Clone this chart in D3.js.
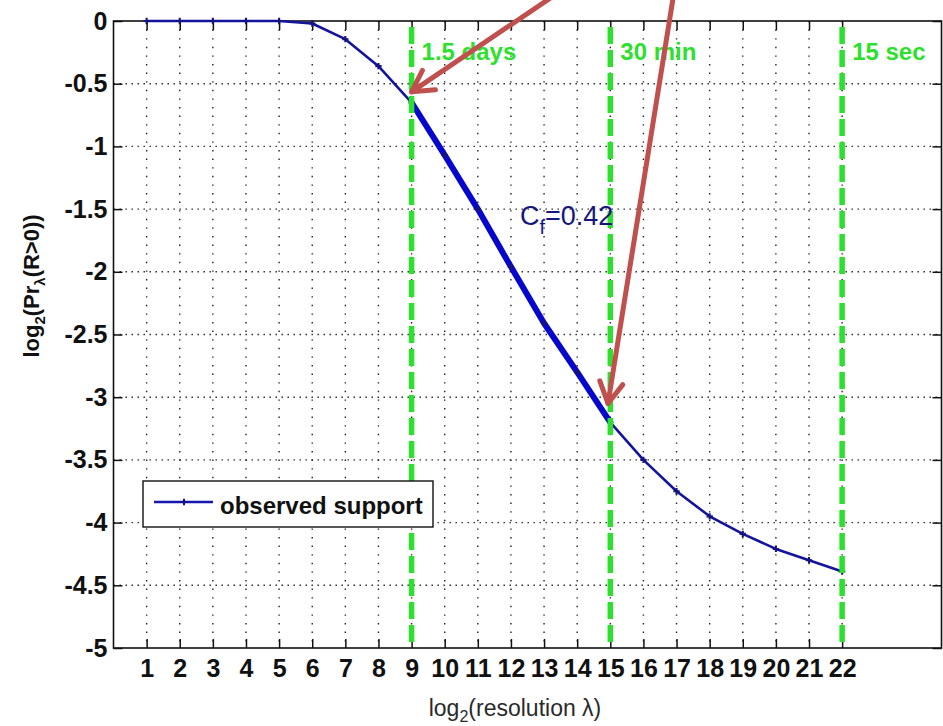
<!DOCTYPE html>
<html>
<head>
<meta charset="utf-8">
<script src="https://cdn.jsdelivr.net/npm/d3@7"></script>
<style>
  body { margin: 0; background: #fff; }
  svg { display: block; }
  text { font-family: "Liberation Sans", Arial, Helvetica, sans-serif; }
</style>
</head>
<body>
<svg id="chart" width="943" height="726"></svg>
<script>
// log2 of the resolution (x) and log2 of the support probability (y)
const resolution = [1, 2, 3, 4, 5, 6, 7, 8, 9, 10, 11, 12, 13, 14, 15, 16, 17, 18, 19, 20, 21, 22];
const logSupport = [0, 0, 0, 0, 0, -0.02, -0.145, -0.36, -0.65, -1.07, -1.5, -1.96, -2.41, -2.8, -3.2,
                    -3.5, -3.75, -3.95, -4.09, -4.21, -4.3, -4.39];

// range over which the power-law fit holds
const fitRange = [9, 15];
const fitLabel = { main: "C", sub: "f", rest: "=0.42" };

// reference time scales
const scaleMarks = [9, 15, 22];
const scaleLabels = ["1.5 days", "30 min", "15 sec"];

// axis ticks
const xTicks = [1, 2, 3, 4, 5, 6, 7, 8, 9, 10, 11, 12, 13, 14, 15, 16, 17, 18, 19, 20, 21, 22];
const yTicks = [0, -0.5, -1, -1.5, -2, -2.5, -3, -3.5, -4, -4.5, -5];
const xDomain = [0, 25];
const yDomain = [-5, 0];

// callout arrows: tail and head in data units
const arrowTails = [[13.23, 0.19], [16.9, 0.19]];
const arrowHeads = [[9.0, -0.565], [14.93, -3.05]];

const legendLabel = "observed support";

const svg = d3.select("#chart");
const W = 943, H = 726;
const margin = { left: 113.5, right: 1.5, top: 21, bottom: 78 };

const x = d3.scaleLinear().domain(xDomain).range([margin.left, W - margin.right]);
const y = d3.scaleLinear().domain(yDomain).range([H - margin.bottom, margin.top]);

const x0 = x.range()[0], x1 = x.range()[1];
const y0 = y.range()[0], y1 = y.range()[1];

svg.append("rect").attr("width", W).attr("height", H).attr("fill", "#fff");

// dotted grid
const grid = svg.append("g");
grid.selectAll("line.gx").data(xTicks).join("line")
  .attr("x1", d => x(d)).attr("x2", d => x(d))
  .attr("y1", y1).attr("y2", y0)
  .attr("stroke", "#222").attr("stroke-width", 1.4)
  .attr("stroke-dasharray", "1.4,7.2");
grid.selectAll("line.gy").data(yTicks.slice(1, -1)).join("line")
  .attr("x1", x0).attr("x2", x1)
  .attr("y1", d => y(d)).attr("y2", d => y(d))
  .attr("stroke", "#222").attr("stroke-width", 1.4)
  .attr("stroke-dasharray", "1.4,4.6");

// axes: ticks pointing inward on all four sides
const tickLen = 9;
const fontTick = 25;
const axisBottom = d3.axisBottom(x).tickValues(xTicks).tickSize(-tickLen).tickPadding(11).tickFormat(d3.format("d"));
const axisTop = d3.axisTop(x).tickValues(xTicks).tickSize(-tickLen).tickFormat("");
const axisLeft = d3.axisLeft(y).tickValues(yTicks).tickSize(-tickLen).tickPadding(6).tickFormat(d => String(d));
const axisRight = d3.axisRight(y).tickValues(yTicks).tickSize(-tickLen).tickFormat("");

function styleAxis(g) {
  g.select(".domain").remove();
  g.selectAll(".tick line").attr("stroke", "#111").attr("stroke-width", 1.5);
  g.selectAll(".tick text").attr("fill", "#111")
    .style("font-size", fontTick + "px").style("font-weight", "bold")
    .style("font-family", "'Liberation Sans', Arial, sans-serif");
}
svg.append("g").attr("transform", `translate(0,${y0})`).call(axisBottom).call(styleAxis)
  .selectAll(".tick text").attr("dy", "0.72em");
svg.append("g").attr("transform", `translate(0,${y1})`).call(axisTop).call(styleAxis);
svg.append("g").attr("transform", `translate(${x0},0)`).call(axisLeft).call(styleAxis);
svg.append("g").attr("transform", `translate(${x1},0)`).call(axisRight).call(styleAxis);

// box
svg.append("rect")
  .attr("x", x0).attr("y", y1).attr("width", x1 - x0).attr("height", y0 - y1)
  .attr("fill", "none").attr("stroke", "#111").attr("stroke-width", 1.6);

const pts = resolution.map((r, i) => [r, logSupport[i]]);
const line = d3.line().x(d => x(d[0])).y(d => y(d[1]));

// observed curve
svg.append("path").datum(pts)
  .attr("d", line).attr("fill", "none")
  .attr("stroke", "#13139e").attr("stroke-width", 2.6).attr("stroke-linejoin", "round");

// fitted section drawn heavier
const fitPts = pts.filter(d => d[0] >= fitRange[0] && d[0] <= fitRange[1]);
svg.append("path").datum(fitPts)
  .attr("d", line).attr("fill", "none")
  .attr("stroke", "#0606cc").attr("stroke-width", 6).attr("stroke-linejoin", "round");

// point markers
const marker = d3.symbol().type(d3.symbolCross).size(22);
svg.append("g").selectAll("path").data(pts).join("path")
  .attr("transform", d => `translate(${x(d[0])},${y(d[1])})`)
  .attr("d", marker).attr("fill", "#14147a");

// green reference time scales
const green = "#2ee02e";
svg.append("g").selectAll("line").data(scaleMarks).join("line")
  .attr("x1", d => x(d)).attr("x2", d => x(d))
  .attr("y1", y(0) + 6).attr("y2", y(-5) - 4)
  .attr("stroke", green).attr("stroke-width", 5.5)
  .attr("stroke-dasharray", "17,6");
svg.append("g").selectAll("text").data(scaleMarks).join("text")
  .attr("x", d => x(d) + 10).attr("y", y(-0.31))
  .attr("fill", green).style("font-size", "24px").style("font-weight", "bold")
  .text((d, i) => scaleLabels[i]);

// slope label
const fl = svg.append("text")
  .attr("x", x(12.27)).attr("y", y(-1.627))
  .attr("fill", "#16167e").style("font-size", "27px");
fl.append("tspan").text(fitLabel.main);
fl.append("tspan").attr("dy", 9).style("font-size", "20px").text(fitLabel.sub);
fl.append("tspan").attr("dy", -9).text(fitLabel.rest);

// legend
const lg = svg.append("g");
lg.append("rect").attr("x", 143).attr("y", 481).attr("width", 290).attr("height", 46)
  .attr("fill", "#fff").attr("stroke", "#111").attr("stroke-width", 1.4);
lg.append("line").attr("x1", 154).attr("x2", 213).attr("y1", 502).attr("y2", 502)
  .attr("stroke", "#1616b0").attr("stroke-width", 2.6);
lg.append("path").attr("transform", "translate(184,502)").attr("d", marker).attr("fill", "#14147a");
lg.append("text").attr("x", 220).attr("y", 514)
  .attr("fill", "#111").style("font-size", "24px").style("font-weight", "bold")
  .text(legendLabel);

// axis titles
const xl = svg.append("text")
  .attr("x", 515).attr("y", 716).attr("text-anchor", "middle")
  .attr("fill", "#2a2a2a").style("font-size", "23px");
xl.append("tspan").text("log");
xl.append("tspan").attr("dy", 6).style("font-size", "16px").text("2");
xl.append("tspan").attr("dy", -6).text("(resolution λ)");

const yl = svg.append("text")
  .attr("transform", "translate(39,286) rotate(-90)").attr("text-anchor", "middle")
  .attr("fill", "#111").style("font-size", "22px").style("font-weight", "bold");
yl.append("tspan").text("log");
yl.append("tspan").attr("dy", 6).style("font-size", "15px").text("2");
yl.append("tspan").attr("dy", -6).text("(Pr");
yl.append("tspan").attr("dy", 6).style("font-size", "15px").text("λ");
yl.append("tspan").attr("dy", -6).text("(R>0))");

// red callout arrows
const red = "#c0504d";
const arrows = svg.append("g");
arrowTails.forEach((t, i) => {
  const h = arrowHeads[i];
  const tx = x(t[0]), ty = y(t[1]), hx = x(h[0]), hy = y(h[1]);
  const ang = Math.atan2(ty - hy, tx - hx);
  const arm = 24, spread = Math.PI / 6.2;
  arrows.append("line").attr("x1", tx).attr("y1", ty).attr("x2", hx).attr("y2", hy)
    .attr("stroke", red).attr("stroke-width", 5).attr("stroke-linecap", "round");
  arrows.append("path")
    .attr("d", `M${hx + arm * Math.cos(ang + spread)},${hy + arm * Math.sin(ang + spread)}L${hx},${hy}L${hx + arm * Math.cos(ang - spread)},${hy + arm * Math.sin(ang - spread)}`)
    .attr("fill", "none").attr("stroke", red).attr("stroke-width", 5)
    .attr("stroke-linecap", "round").attr("stroke-linejoin", "round");
});
</script>
</body>
</html>
